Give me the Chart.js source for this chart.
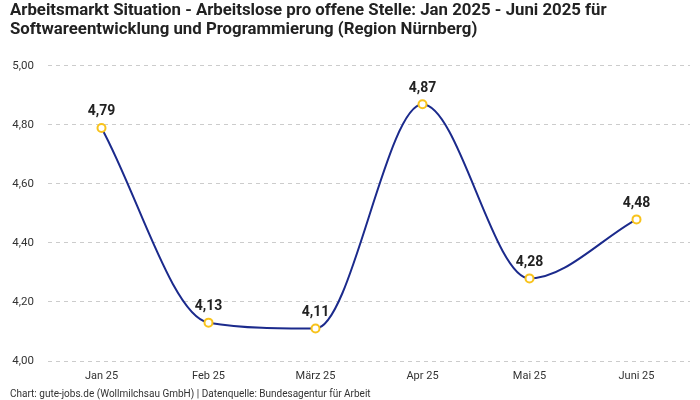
<!DOCTYPE html>
<html>
<head>
<meta charset="utf-8">
<script src="https://cdn.jsdelivr.net/npm/chart.js@4"></script>
<style>
  html, body { margin: 0; padding: 0; background: #fff; }
  #wrap { width: 700px; height: 400px; }
</style>
</head>
<body>
<div id="wrap"><canvas id="arbeitsmarkt-chart"></canvas></div>
<script>
var months = ["Jan 25", "Feb 25", "März 25", "Apr 25", "Mai 25", "Juni 25"];
var ratio = [4.79, 4.13, 4.11, 4.87, 4.28, 4.48];
var yMin = 4.0;
var yMax = 5.0;
var yStep = 0.2;

function fmt(v, digits) {
  return v.toFixed(digits).replace(".", ",");
}

// simple value labels above the points
var valueLabels = {
  id: "valueLabels",
  afterDatasetsDraw: function (chart) {
    var ctx = chart.ctx;
    var meta = chart.getDatasetMeta(0);
    ctx.save();
    ctx.font = "bold 14px Roboto, 'Noto Sans', sans-serif";
    ctx.fillStyle = "#222";
    ctx.textAlign = "center";
    ctx.textBaseline = "bottom";
    meta.data.forEach(function (pt, i) {
      ctx.fillText(fmt(ratio[i], 2), pt.x, pt.y - 9);
    });
    ctx.restore();
  },
};

var ctx = document.getElementById("arbeitsmarkt-chart").getContext("2d");
new Chart(ctx, {
  type: "line",
  data: {
    labels: months,
    datasets: [
      {
        label: "Arbeitslose pro offene Stelle",
        data: ratio,
        borderColor: "#1b2a8c",
        borderWidth: 2,
        cubicInterpolationMode: "monotone",
        pointRadius: 4,
        pointHoverRadius: 4,
        pointBackgroundColor: "#ffffff",
        pointBorderColor: "#f8c31c",
        pointBorderWidth: 2,
        fill: false,
      },
    ],
  },
  options: {
    responsive: true,
    maintainAspectRatio: false,
    animation: false,
    layout: { padding: { left: 10, right: 10, top: 0, bottom: 0 } },
    scales: {
      x: {
        offset: true,
        grid: { display: false, drawTicks: false },
        border: { display: false },
        afterFit: function (scale) {
          scale.height = scale.height - 4;
        },
        ticks: {
          color: "#333",
          font: { family: "Roboto, 'Noto Sans', sans-serif", size: 11, lineHeight: 1 },
          padding: 10,
        },
      },
      y: {
        min: yMin,
        max: yMax,
        grid: { color: "#cccccc", drawTicks: false },
        border: { display: false, dash: [4, 4] },
        afterFit: function (scale) {
          scale.width = 38;
        },
        ticks: {
          stepSize: yStep,
          color: "#333",
          padding: 14,
          font: { family: "Roboto, 'Noto Sans', sans-serif", size: 11.5 },
          callback: function (value) {
            return fmt(value, 2);
          },
        },
      },
    },
    plugins: {
      legend: { display: false },
      tooltip: { enabled: false },
      title: {
        display: true,
        align: "start",
        text: [
          "Arbeitsmarkt Situation - Arbeitslose pro offene Stelle: Jan 2025 - Juni 2025 für",
          "Softwareentwicklung und Programmierung (Region Nürnberg)",
        ],
        color: "#222",
        font: { family: "Roboto, 'Noto Sans', sans-serif", size: 16.8, weight: "bold", lineHeight: 1.1 },
        padding: { top: 2, bottom: 27 },
      },
      subtitle: {
        display: true,
        position: "bottom",
        align: "start",
        text: "Chart: gute-jobs.de (Wollmilchsau GmbH) | Datenquelle: Bundesagentur für Arbeit",
        color: "#333",
        font: { family: "Roboto, 'Noto Sans', sans-serif", size: 10 },
        padding: { top: 0, bottom: 0 },
      },
    },
  },
  plugins: [valueLabels],
});
</script>
</body>
</html>
